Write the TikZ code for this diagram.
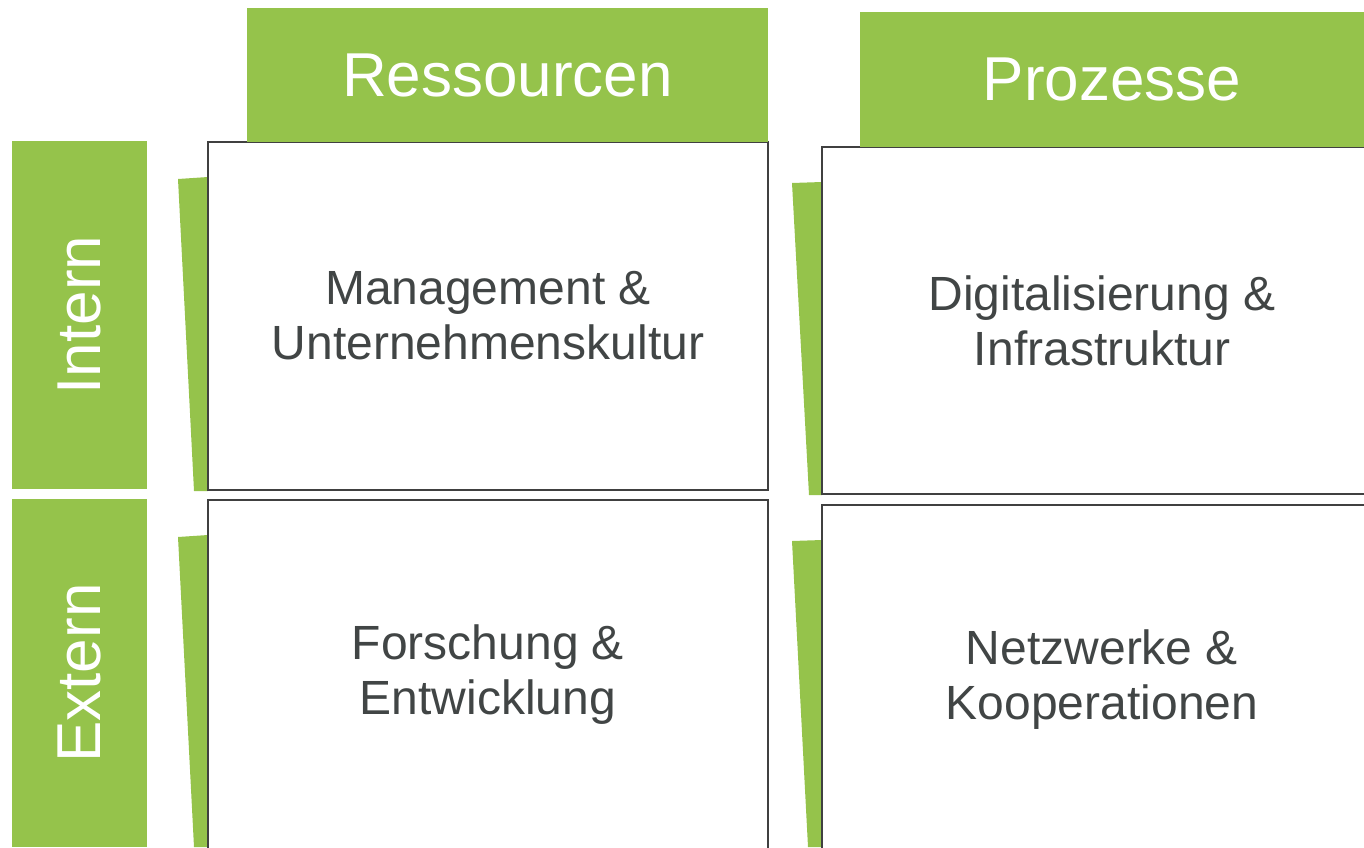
\documentclass[tikz,border=0pt]{standalone}
\usepackage{fontspec}
\setmainfont{Liberation Sans}
\definecolor{leaf}{HTML}{95C34B}
\definecolor{ink}{HTML}{414545}
\definecolor{edge}{HTML}{404040}
\begin{document}
\begin{tikzpicture}[x=1pt,y=-1pt,
  hdr/.style={fill=leaf,inner sep=0pt,text=white,font=\fontsize{62}{70}\selectfont},
  side/.style={fill=leaf,inner sep=0pt,text=white,font=\fontsize{62}{70}\selectfont},
  cell/.style={draw=edge,line width=1.4pt,fill=white,inner sep=0pt,text=ink,align=center,font=\fontsize{48}{55}\selectfont},
  tab/.style={fill=leaf}]
\useasboundingbox (0,0) rectangle (1364,847);
% slanted tabs behind cells
\fill[tab] (178,179) -- (208,177) -- (208,491) -- (194,491) -- cycle;
\fill[tab] (178,537) -- (208,535) -- (208,847) -- (194,847) -- cycle;
\fill[tab] (792,183) -- (822,182) -- (822,495) -- (809,495) -- cycle;
\fill[tab] (792,541) -- (822,540) -- (822,847) -- (808,847) -- cycle;
% cells
\node[cell,minimum width=560pt,minimum height=348pt] (mgmt) at (488,316) {Management \&\\Unternehmenskultur};
\node[cell,minimum width=560pt,minimum height=350pt] (fue) at (488,675) {Forschung \&\\Entwicklung};
\node[cell,minimum width=560pt,minimum height=347pt] (digi) at (1102,320.5) {Digitalisierung \&\\Infrastruktur};
\node[cell,minimum width=560pt,minimum height=350pt] (netz) at (1102,680) {Netzwerke \&\\Kooperationen};
% headers
\node[hdr,minimum width=521pt,minimum height=134pt] (res) at (507.5,75) {Ressourcen};
\node[hdr,minimum width=504pt,minimum height=135pt] (proz) at (1112,79.5) {Prozesse};
% side labels
\node[side,minimum width=348pt,minimum height=135pt,rotate=90] (intern) at (79.5,315) {Intern};
\node[side,minimum width=348pt,minimum height=135pt,rotate=90] (extern) at (79.5,673) {Extern};
\end{tikzpicture}
\end{document}
